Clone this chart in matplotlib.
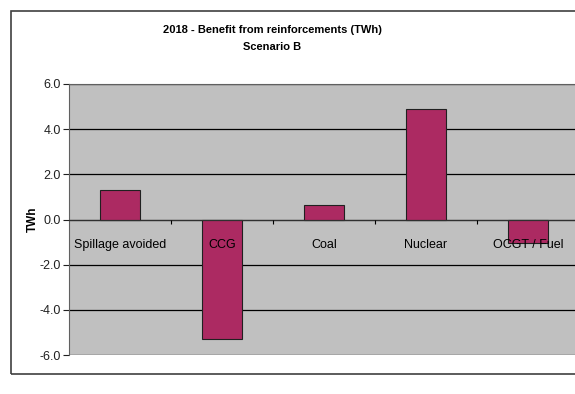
import matplotlib.pyplot as plt
from matplotlib.patches import Rectangle
from matplotlib.ticker import MultipleLocator, FormatStrFormatter

categories = ['Spillage avoided', 'CCG', 'Coal', 'Nuclear', 'OCGT / Fuel']
benefit_twh = [1.32, -5.3, 0.65, 4.9, -1.05]

plt.rcParams['font.family'] = ['Liberation Sans', 'DejaVu Sans']
plt.rcParams['font.size'] = 8

W, H = 575, 394
fig = plt.figure(figsize=(W / 100, H / 100), dpi=100)

# outer chart frame (runs off the right edge)
fig.patches.append(Rectangle((11 / W, 1 - 374 / H), 700 / W, 363 / H,
                             transform=fig.transFigure, fill=False,
                             edgecolor='#404040', lw=1.2, zorder=0))

ax = fig.add_axes([69 / W, 1 - 355 / H, 510 / W, 271 / H])
ax.set_facecolor('#C0C0C0')

x = range(len(categories))
ax.bar(x, benefit_twh, width=0.4, color='#AC2A62', edgecolor='#202020',
       lw=0.8, zorder=3)

ax.set_xlim(-0.5, len(categories) - 0.5)
ax.set_ylim(-6, 6)
ax.yaxis.set_major_locator(MultipleLocator(2))
ax.yaxis.set_major_formatter(FormatStrFormatter('%.1f'))
ax.grid(axis='y', color='black', lw=0.9, zorder=1)
ax.tick_params(axis='y', length=4, width=0.8, pad=2, colors='#202020',
               labelsize=9)

# category axis crosses at zero, labels sit over the bars
ax.spines['bottom'].set_position(('data', 0))
ax.spines['bottom'].set_color('#303030')
ax.spines['bottom'].set_zorder(4)
ax.xaxis.set_zorder(5)
ax.set_xticks(list(x))
ax.set_xticklabels(categories)
ax.set_xticks([i + 0.5 for i in x][:-1], minor=True)
ax.tick_params(axis='x', which='major', length=0, pad=14, labelsize=9)
ax.tick_params(axis='x', which='minor', length=3, width=0.8, direction='out')

ax.spines['top'].set_color('#606060')
ax.spines['left'].set_color('#606060')
ax.spines['right'].set_visible(False)

ax.set_ylabel('TWh', fontweight='bold', fontsize=8.5, labelpad=0)

fig.text(272 / W, 1 - 30 / H, '2018 - Benefit from reinforcements (TWh)',
         ha='center', va='center', fontweight='bold', fontsize=8)
fig.text(272 / W, 1 - 47 / H, 'Scenario B',
         ha='center', va='center', fontweight='bold', fontsize=8)

fig.savefig('out.png', dpi=100)
